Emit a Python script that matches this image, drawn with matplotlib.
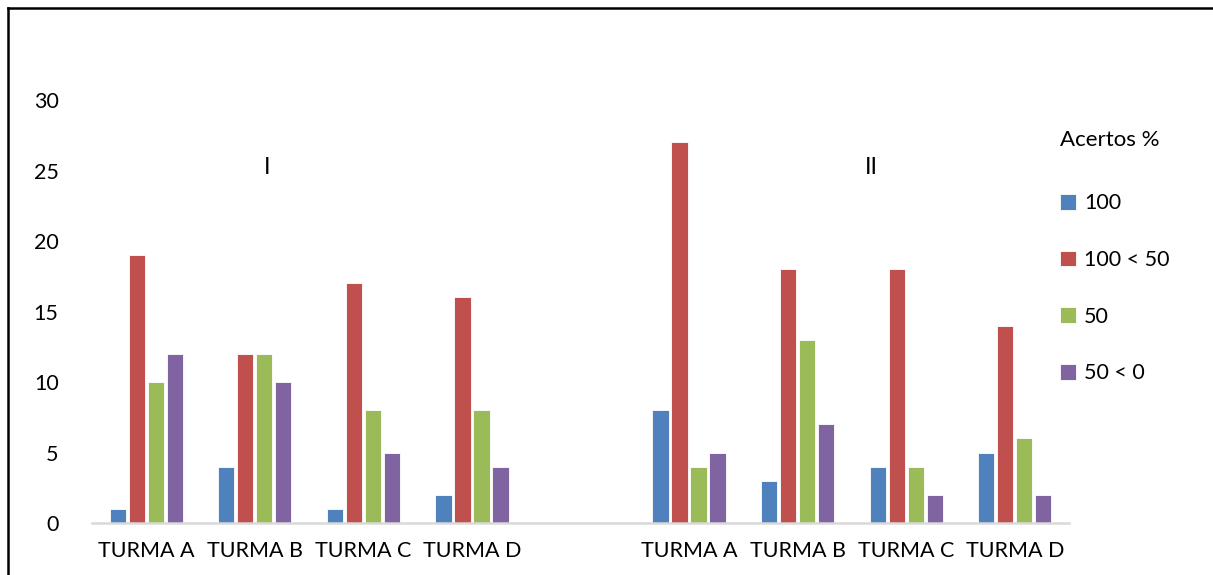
import matplotlib.pyplot as plt
import numpy as np
from matplotlib.lines import Line2D

plt.rcParams['font.family'] = ['Lato', 'DejaVu Sans']

categories = ["TURMA A", "TURMA B", "TURMA C", "TURMA D", "",
              "TURMA A", "TURMA B", "TURMA C", "TURMA D"]
series_names = ["100", "100 < 50", "50", "50 < 0"]
v100 = [1, 4, 1, 2, 0, 8, 3, 4, 5]
v100_50 = [19, 12, 17, 16, 0, 27, 18, 18, 14]
v50 = [10, 12, 8, 8, 0, 4, 13, 4, 6]
v50_0 = [12, 10, 5, 4, 0, 5, 7, 2, 2]
colors = ["#4F81BD", "#C0504D", "#9BBB59", "#8064A2"]

fig = plt.figure(figsize=(12.13, 5.75), dpi=100)
ax = fig.add_axes([0.0758, 0.0904, 0.8055, 0.7356])

x = np.arange(len(categories))
slot = 0.175
width = 0.15
all_vals = [v100, v100_50, v50, v50_0]
for i, vals in enumerate(all_vals):
    xs = x + (i - 1.5) * slot
    ax.bar(xs, vals, width=width, color=colors[i], edgecolor="white",
           linewidth=0.6, label=series_names[i])

ax.set_xlim(-0.5, len(categories) - 0.5)
ax.set_ylim(0, 30)
ax.set_yticks([0, 5, 10, 15, 20, 25, 30])
ax.set_xticks(x)
ax.set_xticklabels(categories)
ax.tick_params(axis="both", length=0, labelsize=15.5, colors="black")
ax.tick_params(axis="y", pad=24)
ax.tick_params(axis="x", pad=13)
for s in ["top", "right", "left"]:
    ax.spines[s].set_visible(False)
ax.spines["bottom"].set_color("#D9D9D9")
ax.spines["bottom"].set_linewidth(1.8)

ax.text(1.11, 25.2, "I", fontsize=17, ha="center", va="center")
ax.text(6.68, 25.2, "II", fontsize=17, ha="center", va="center")

leg = fig.legend(loc="upper left", bbox_to_anchor=(0.858, 0.807),
                 frameon=False, title="Acertos %", fontsize=15.5,
                 title_fontsize=16, handlelength=0.75, handleheight=0.75,
                 handletextpad=0.35, labelspacing=1.7, alignment="left")
leg._legend_box.sep = 31

# figure border (top and left only visible)
fig.add_artist(Line2D([0.0066, 1.0], [0.986, 0.986], color="black", linewidth=1.8))
fig.add_artist(Line2D([0.0066, 0.0066], [0.0, 0.986], color="black", linewidth=1.8))

plt.savefig("out.png", dpi=100)
